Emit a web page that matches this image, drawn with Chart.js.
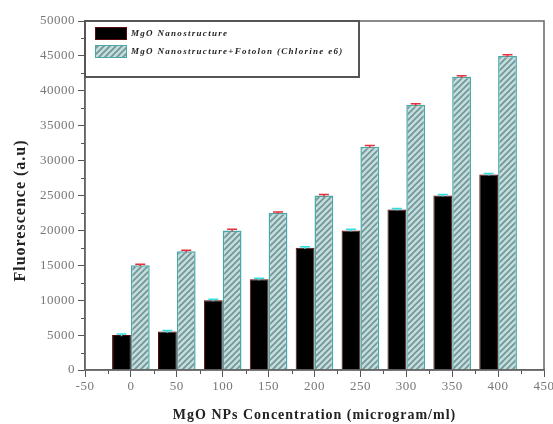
<!DOCTYPE html>
<html>
<head>
<meta charset="utf-8">
<script src="https://cdn.jsdelivr.net/npm/chart.js@4"></script>
<style>
  html, body { margin: 0; padding: 0; background: #fff; }
  #wrap { width: 553px; height: 424px; }
</style>
</head>
<body>
<div id="wrap"><canvas id="chart" width="553" height="424"></canvas></div>
<script>
// concentrations (microgram/ml)
const concentrations = [0, 50, 100, 150, 200, 250, 300, 350, 400];
const mgoOnly = [5000, 5500, 10000, 13000, 17500, 20000, 23000, 25000, 28000];
const mgoFotolon = [15000, 17000, 20000, 22500, 25000, 32000, 38000, 42000, 45000];
const mgoOnlyErr = [150, 150, 150, 150, 150, 150, 150, 150, 150];
const mgoFotolonErr = [150, 150, 150, 150, 150, 150, 150, 150, 150];
const seriesLabels = ['MgO Nanostructure', 'MgO Nanostructure+Fotolon (Chlorine e6)'];
const xTitle = 'MgO NPs Concentration (microgram/ml)';
const yTitle = 'Fluorescence (a.u)';

const serif = '"Liberation Serif", "DejaVu Serif", serif';

// diagonal hatch for the second series
function makeHatch() {
    const c = document.createElement('canvas');
    c.width = 6; c.height = 6;
    const g = c.getContext('2d');
    g.fillStyle = '#c4dcdc';
    g.fillRect(0, 0, 6, 6);
    g.strokeStyle = '#6f9595';
    g.lineWidth = 1.6;
    g.beginPath();
    g.moveTo(-1, 7); g.lineTo(7, -1);
    g.moveTo(-4, 4); g.lineTo(4, -4);
    g.moveTo(2, 10); g.lineTo(10, 2);
    g.stroke();
    return g.createPattern(c, 'repeat');
}
const hatch = makeHatch();

const errColors = ['#30e0e0', '#e8303c'];
const errData = [mgoOnlyErr, mgoFotolonErr];

// error caps, minor ticks, frame, titles and boxed legend
const extras = {
    id: 'extras',
    beforeDraw(chart) {
        chart.ctx.letterSpacing = '0.5px';
    },
    afterDatasetsDraw(chart) {
        const ctx = chart.ctx;
        const y = chart.scales.y;
        ctx.save();
        chart.data.datasets.forEach((ds, di) => {
            const meta = chart.getDatasetMeta(di);
            meta.data.forEach((bar, i) => {
                const v = ds.data[i].y;
                const e = errData[di][i];
                const top = y.getPixelForValue(v + e);
                const bot = y.getPixelForValue(v - e);
                ctx.strokeStyle = errColors[di];
                ctx.lineWidth = 1.5;
                ctx.beginPath();
                ctx.moveTo(bar.x, top); ctx.lineTo(bar.x, bot);
                ctx.moveTo(bar.x - 5, top); ctx.lineTo(bar.x + 5, top);
                ctx.stroke();
            });
        });
        ctx.restore();
    },
    afterDraw(chart) {
        const ctx = chart.ctx;
        const a = chart.chartArea;
        const x = chart.scales.x, y = chart.scales.y;
        ctx.save();
        // minor ticks
        ctx.strokeStyle = '#555';
        ctx.lineWidth = 1;
        ctx.beginPath();
        for (let v = 2500; v < 50000; v += 5000) {
            const py = Math.round(y.getPixelForValue(v)) + 0.5;
            ctx.moveTo(a.left - 4, py); ctx.lineTo(a.left, py);
        }
        for (let v = -25; v < 450; v += 50) {
            const px = Math.round(x.getPixelForValue(v)) + 0.5;
            ctx.moveTo(px, a.bottom); ctx.lineTo(px, a.bottom + 4);
        }
        ctx.stroke();
        // frame
        ctx.strokeStyle = '#666';
        ctx.lineWidth = 1.5;
        ctx.strokeRect(a.left, a.top, a.right - a.left, a.bottom - a.top);
        // axis titles
        ctx.fillStyle = '#222';
        ctx.letterSpacing = '1px';
        ctx.textAlign = 'center';
        ctx.textBaseline = 'middle';
        ctx.font = 'bold 14px ' + serif;
        ctx.fillText(xTitle, (a.left + a.right) / 2, 415);
        ctx.save();
        ctx.translate(21, (a.top + a.bottom) / 2 + 15);
        ctx.rotate(-Math.PI / 2);
        ctx.font = 'bold 16px ' + serif;
        ctx.fillText(yTitle, 0, 0);
        ctx.restore();
        // legend box
        ctx.letterSpacing = '1.3px';
        ctx.textAlign = 'left';
        const lx = a.left, ly = a.top, lw = 274, lh = 56;
        ctx.fillStyle = '#fff';
        ctx.fillRect(lx, ly, lw, lh);
        ctx.strokeStyle = '#555';
        ctx.lineWidth = 2;
        ctx.strokeRect(lx, ly, lw, lh);
        chart.data.datasets.forEach((ds, di) => {
            const sy = ly + 6 + di * 18;
            ctx.fillStyle = ds.backgroundColor;
            ctx.fillRect(lx + 10, sy, 32, 13);
            ctx.strokeStyle = ds.borderColor;
            ctx.lineWidth = 1;
            ctx.strokeRect(lx + 10.5, sy + 0.5, 31, 12);
            ctx.fillStyle = '#222';
            ctx.font = 'italic bold 9px ' + serif;
            ctx.fillText(ds.label, lx + 46, sy + 7);
        });
        ctx.restore();
        ctx.letterSpacing = '0px';
    }
};

new Chart(document.getElementById('chart'), {
    type: 'bar',
    data: {
        datasets: [
            {
                label: seriesLabels[0],
                data: concentrations.map((c, i) => ({ x: c, y: mgoOnly[i] })),
                backgroundColor: '#000000',
                borderColor: '#5a0a0a',
                borderWidth: 1
            },
            {
                label: seriesLabels[1],
                data: concentrations.map((c, i) => ({ x: c, y: mgoFotolon[i] })),
                backgroundColor: hatch,
                borderColor: '#4aa8a8',
                borderWidth: 1.5
            }
        ]
    },
    options: {
        responsive: false,
        animation: false,
        categoryPercentage: 0.82,
        barPercentage: 1.0,
        layout: { padding: { top: 21, right: 0, left: 0, bottom: 0 } },
        plugins: {
            legend: { display: false },
            tooltip: { enabled: false }
        },
        scales: {
            x: {
                type: 'linear',
                offset: false,
                min: -50,
                max: 450,
                grid: { offset: false, drawOnChartArea: false, tickLength: 7, color: '#555' },
                border: { color: '#666', width: 1.5 },
                ticks: {
                    stepSize: 50, color: '#777', font: { family: serif, size: 13 }, padding: 2,
                    callback: v => String(v)
                },
                afterFit(scale) {
                    scale.height = 54;
                    scale.paddingRight = 9;
                }
            },
            y: {
                min: 0,
                max: 50000,
                grid: { drawOnChartArea: false, tickLength: 7, color: '#555' },
                border: { color: '#666', width: 1.5 },
                ticks: {
                    stepSize: 5000, color: '#777', font: { family: serif, size: 13 }, padding: 3,
                    callback: v => String(v)
                },
                afterFit(scale) { scale.width = 85; }
            }
        }
    },
    plugins: [extras]
});
</script>
</body>
</html>
